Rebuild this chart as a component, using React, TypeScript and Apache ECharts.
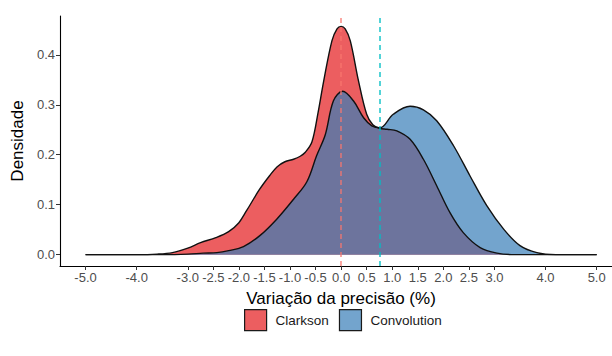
import React, { useEffect, useRef } from "react";
import * as echarts from "echarts";

// Density curve: Clarkson
const clarksonX = [-5.0, -4.0, -3.6, -3.3, -3.0, -2.75, -2.45, -2.2, -2.0, -1.85, -1.6, -1.4, -1.25, -1.1, -0.93, -0.8, -0.7, -0.57, -0.45, -0.34, -0.18, -0.08, 0.0, 0.08, 0.18, 0.34, 0.5, 0.62, 0.75, 0.9, 1.09, 1.35, 1.61, 1.87, 2.13, 2.39, 2.72, 3.05, 3.4, 4.0, 5.0];
const clarksonY = [0, 0, 0.001, 0.004, 0.013, 0.024, 0.034, 0.046, 0.064, 0.088, 0.13, 0.158, 0.176, 0.186, 0.191, 0.197, 0.205, 0.226, 0.285, 0.348, 0.428, 0.452, 0.457, 0.452, 0.428, 0.348, 0.281, 0.26, 0.253, 0.251, 0.248, 0.231, 0.191, 0.138, 0.084, 0.044, 0.014, 0.003, 0, 0, 0];

// Density curve: Convolution
const convolutionX = [-5.0, -3.5, -3.0, -2.7, -2.43, -2.2, -1.91, -1.59, -1.26, -0.93, -0.67, -0.48, -0.31, -0.15, 0.03, 0.24, 0.44, 0.6, 0.76, 1.02, 1.35, 1.61, 1.87, 2.2, 2.52, 2.85, 3.18, 3.5, 3.83, 4.2, 5.0];
const convolutionY = [0, 0, 0.001, 0.003, 0.004, 0.008, 0.016, 0.038, 0.071, 0.111, 0.146, 0.198, 0.24, 0.308, 0.327, 0.308, 0.274, 0.258, 0.254, 0.281, 0.297, 0.29, 0.268, 0.218, 0.158, 0.098, 0.051, 0.018, 0.004, 0, 0];

// Mean lines
const clarksonMean = 0.0;
const convolutionMean = 0.75;

// Tick labels
const xTicks = [-5, -4, -3, -2.5, -2, -1.5, -1, -0.5, 0, 0.5, 1, 1.5, 2, 2.5, 3, 4, 5];
const yTicks = [0, 0.1, 0.2, 0.3, 0.4];

const seriesNames = ["Clarkson", "Convolution"];

const RED = "rgba(228,26,28,0.7)";
const BLUE = "rgba(55,126,184,0.7)";
const FONT = "'Liberation Sans', Arial, Helvetica, sans-serif";

export default function App() {
  const ref = useRef<HTMLDivElement>(null);
  useEffect(() => {
    document.body.style.margin = "0";
    const chart = echarts.init(ref.current!, null, { renderer: "svg" });
    const pairs = (xs: number[], ys: number[]) => xs.map((x, i) => [x, ys[i]]);
    chart.setOption({
      animation: false,
      textStyle: { fontFamily: FONT },
      grid: { left: 60, right: 0, top: 16, bottom: 90 },
      legend: {
        top: 309,
        left: 244,
        padding: 0,
        itemWidth: 22,
        itemHeight: 21,
        itemGap: 10,
        textStyle: { fontSize: 13.5, color: "#1a1a1a", fontFamily: FONT, padding: [0, 0, 0, 4] },
        data: [
          { name: seriesNames[0], icon: "rect", itemStyle: { color: RED, borderColor: "#1a1a1a", borderWidth: 1.2 } },
          { name: seriesNames[1], icon: "rect", itemStyle: { color: BLUE, borderColor: "#1a1a1a", borderWidth: 1.2 } },
        ],
      },
      xAxis: {
        type: "value",
        min: -5.5,
        max: 5.3,
        interval: 0.5,
        name: "Variação da precisão (%)",
        nameLocation: "middle",
        nameGap: 24,
        nameTextStyle: { fontSize: 17, color: "#000", fontFamily: FONT, padding: [0, 0, 0, 10] },
        axisLine: { show: true, onZero: false, lineStyle: { color: "#000", width: 1.1 } },
        axisTick: { show: true, length: 4, customValues: xTicks, lineStyle: { color: "#333" } },
        axisLabel: {
          customValues: xTicks,
          fontSize: 13,
          color: "#4D4D4D",
          margin: 5,
          showMaxLabel: true,
          formatter: (v: number) => v.toFixed(1),
        },
        splitLine: { show: false },
      },
      yAxis: {
        type: "value",
        min: -0.02275,
        max: 0.4778,
        name: "Densidade",
        nameLocation: "middle",
        nameGap: 33,
        nameRotate: 90,
        nameTextStyle: { fontSize: 17, color: "#000", fontFamily: FONT },
        axisLine: { show: true, onZero: false, lineStyle: { color: "#000", width: 1.1 } },
        axisTick: { show: true, length: 4, customValues: yTicks, lineStyle: { color: "#333" } },
        axisLabel: {
          customValues: yTicks,
          fontSize: 13,
          color: "#4D4D4D",
          margin: 5,
          formatter: (v: number) => v.toFixed(1),
        },
        splitLine: { show: false },
      },
      series: [
        {
          name: seriesNames[0],
          type: "line",
          data: pairs(clarksonX, clarksonY),
          smooth: 0.35,
          showSymbol: false,
          symbol: "none",
          itemStyle: { color: RED },
          lineStyle: { color: "#111", width: 1.4 },
          areaStyle: { color: RED, opacity: 1, origin: 0 },
        },
        {
          name: seriesNames[1],
          type: "line",
          data: pairs(convolutionX, convolutionY),
          smooth: 0.35,
          showSymbol: false,
          symbol: "none",
          itemStyle: { color: BLUE },
          lineStyle: { color: "#111", width: 1.4 },
          areaStyle: { color: BLUE, opacity: 1, origin: 0 },
          markLine: {
            silent: true,
            symbol: "none",
            label: { show: false },
            data: [
              { xAxis: clarksonMean, lineStyle: { color: "#F8766D", type: [5, 4], width: 1.5, opacity: 0.85 } },
              { xAxis: convolutionMean, lineStyle: { color: "#00BFC4", type: [5, 4], width: 1.5, opacity: 0.9 } },
            ],
          },
        },
      ],
    });
    return () => chart.dispose();
  }, []);
  return <div ref={ref} style={{ width: 612, height: 356, position: "absolute", left: 0, top: 0 }} />;
}
